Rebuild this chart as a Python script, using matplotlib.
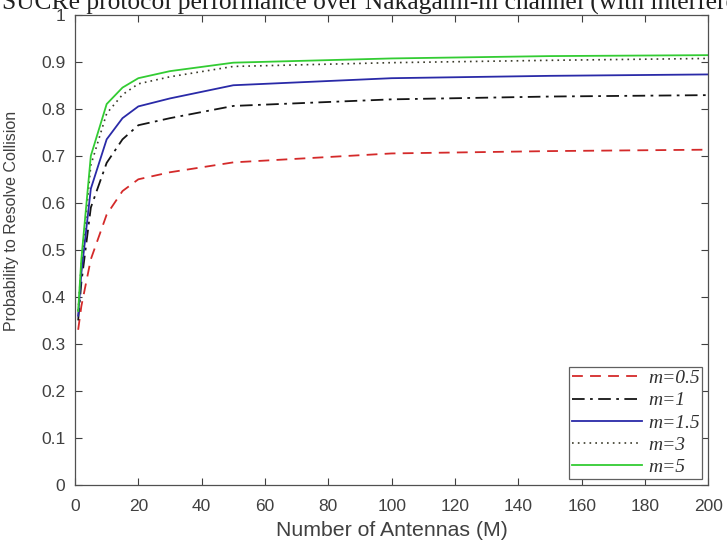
import matplotlib
matplotlib.use("Agg")
import matplotlib.pyplot as plt

# Data
antennas = [1, 2, 5, 10, 15, 20, 30, 50, 100, 150, 200]
m05 = [0.33, 0.38, 0.48, 0.575, 0.625, 0.650, 0.665, 0.686, 0.705, 0.710, 0.713]
m1 = [0.35, 0.43, 0.59, 0.685, 0.735, 0.765, 0.780, 0.806, 0.820, 0.826, 0.829]
m15 = [0.36, 0.45, 0.63, 0.735, 0.780, 0.805, 0.822, 0.850, 0.865, 0.870, 0.873]
m3 = [0.37, 0.47, 0.68, 0.790, 0.830, 0.853, 0.868, 0.890, 0.898, 0.903, 0.907]
m5 = [0.37, 0.48, 0.70, 0.810, 0.845, 0.865, 0.880, 0.898, 0.907, 0.912, 0.914]
labels = ["m=0.5", "m=1", "m=1.5", "m=3", "m=5"]
xticks = [0, 20, 40, 60, 80, 100, 120, 140, 160, 180, 200]
yticks = [0, 0.1, 0.2, 0.3, 0.4, 0.5, 0.6, 0.7, 0.8, 0.9, 1]
ytick_labels = ["0", "0.1", "0.2", "0.3", "0.4", "0.5", "0.6", "0.7", "0.8", "0.9", "1"]
title = "SUCRe protocol performance over Nakagami-m channel (with interference)"

W, H = 727, 542
fig = plt.figure(figsize=(W / 100, H / 100), dpi=100)
ax = fig.add_axes([75 / W, 1 - 485 / H, (708.3 - 75) / W, (485 - 14.7) / H])

ax.plot(antennas, m05, color="#d42a2a", linestyle=(0, (6, 4)), lw=1.3, label=labels[0])
ax.plot(antennas, m1, color="#151515", linestyle=(0, (7, 3, 1.5, 3)), lw=1.3, label=labels[1])
ax.plot(antennas, m15, color="#2a2aa8", linestyle="-", lw=1.3, label=labels[2])
ax.plot(antennas, m3, color="#3a3a2a", linestyle=(0, (1, 2.5)), lw=1.2, label=labels[3])
ax.plot(antennas, m5, color="#33cc33", linestyle="-", lw=1.3, label=labels[4])

ax.set_xlim(0, 200)
ax.set_ylim(0, 1)
ax.set_xticks(xticks)
ax.set_yticks(yticks)
ax.set_yticklabels(ytick_labels)

sans = ["Liberation Sans", "DejaVu Sans"]
for lab in ax.get_xticklabels() + ax.get_yticklabels():
    lab.set_family(sans)
    lab.set_fontsize(12.5)
    lab.set_color("#404040")

ax.tick_params(direction="in", length=5, width=0.8, color="#404040",
               top=True, right=True)
ax.tick_params(axis="y", pad=7)
ax.tick_params(axis="x", pad=10)
for s in ax.spines.values():
    s.set_color("#505050")
    s.set_linewidth(0.9)

ax.set_xlabel("Number of Antennas (M)", family=sans, fontsize=15.3, color="#404040", labelpad=5)
ax.set_ylabel("Probability to Resolve Collision", family=sans, fontsize=11.5, color="#404040")
ax.yaxis.set_label_coords((19 - 75) / 633.3, (485 - 221) / 470.3)

leg = ax.legend(loc="lower right", prop={"family": "Liberation Serif", "style": "italic", "size": 14},
                handlelength=3.6, handletextpad=0.3, labelspacing=0.24, borderpad=0.15,
                borderaxespad=0.3, fancybox=False, framealpha=1, edgecolor="#606060")
leg.get_frame().set_linewidth(0.9)
for t in leg.get_texts():
    t.set_color("#303030")

fig.text((75 + 708.3) / 2 / W, 1 - 10 / H, title, ha="center", va="baseline",
         family=["Liberation Serif", "DejaVu Serif"], fontsize=18.4, color="#202020")

fig.savefig("out.png", dpi=100)
